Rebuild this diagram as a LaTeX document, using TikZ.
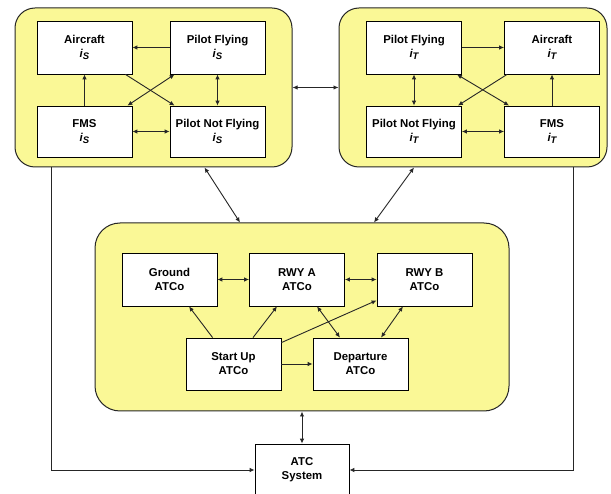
\documentclass[tikz,border=0pt]{standalone}
\usepackage{fontspec}
\setmainfont{Liberation Sans}
\usetikzlibrary{arrows.meta}
\definecolor{contfill}{RGB}{250,248,150}
\newcommand{\subi}[1]{{\itshape i\raisebox{-2.5pt}{\fontsize{9.5}{10}\selectfont #1}}}
\tikzset{
  box/.style={draw=black, line width=0.8pt, fill=white, minimum width=95pt, minimum height=52pt,
    inner sep=1pt, align=center, font=\fontsize{11.4}{14}\selectfont\bfseries},
  cont/.style={draw=black!85, line width=1pt, fill=contfill, rounded corners=20pt},
  conn/.style={draw=black!85, line width=0.9pt},
  one/.style={conn, -{Latex[length=5pt,width=4.5pt]}},
  two/.style={conn, {Latex[length=5pt,width=4.5pt]}-{Latex[length=5pt,width=4.5pt]}}
}
\begin{document}
\begin{tikzpicture}[x=1pt,y=-1pt]
\useasboundingbox (0,0) rectangle (611,494);
\fill[white] (0,0) rectangle (611,494);
% containers
\node[cont, minimum width=277pt, minimum height=159pt] (contL) at (153.5,87.5) {};
\node[cont, minimum width=268pt, minimum height=159pt] (contR) at (473,87.5) {};
\node[cont, rounded corners=25pt, minimum width=414pt, minimum height=188pt] (contM) at (302,317) {};
% left boxes
\node[box, minimum height=53pt] (aS) at (84.5,47.5) {Aircraft\\\subi{S}};
\node[box, minimum height=53pt] (pfS) at (217.5,47.5) {Pilot Flying\\\subi{S}};
\node[box, minimum height=51pt] (fmsS) at (84.5,131.5) {FMS\\\subi{S}};
\node[box, minimum height=51pt] (pnfS) at (217.5,131.5) {Pilot Not Flying\\\subi{S}};
% right boxes
\node[box, minimum height=53pt] (pfT) at (414,47.5) {Pilot Flying\\\subi{T}};
\node[box, minimum height=53pt] (aT) at (552,47.5) {Aircraft\\\subi{T}};
\node[box, minimum height=51pt] (pnfT) at (414,131.5) {Pilot Not Flying\\\subi{T}};
\node[box, minimum height=51pt] (fmsT) at (552,131.5) {FMS\\\subi{T}};
% middle boxes
\node[box, minimum height=53pt] (ground) at (169.5,279.5) {Ground\\ATCo};
\node[box, minimum height=53pt] (rwyA) at (297,279.5) {RWY A\\ATCo};
\node[box, minimum height=53pt] (rwyB) at (424.5,279.5) {RWY B\\ATCo};
\node[box] (startup) at (233.5,364) {Start Up\\ATCo};
\node[box] (dep) at (360.5,364) {Departure\\ATCo};
% ATC system
\node[box, minimum width=94pt] (atc) at (302,470) {ATC\\System};
% left connectors
\draw[one] (pfS.west) -- (aS.east);
\draw[one] (fmsS.north) -- (aS.south);
\draw[one] ([xshift=-7pt]aS.south east) -- ([xshift=5pt]pnfS.north west);
\draw[two] ([xshift=5pt]pfS.south west) -- ([xshift=-5pt]fmsS.north east);
\draw[two] (pfS.south) -- (pnfS.north);
\draw[two] (fmsS.east) -- (pnfS.west);
% right connectors
\draw[one] (pfT.east) -- (aT.west);
\draw[one] (fmsT.north) -- (aT.south);
\draw[two] ([xshift=-5pt]pfT.south east) -- ([xshift=5pt]fmsT.north west);
\draw[one] ([xshift=3pt]aT.south west) -- ([xshift=-4pt]pnfT.north east);
\draw[two] (pfT.south) -- (pnfT.north);
\draw[two] (pnfT.east) -- (fmsT.west);
% container connectors
\draw[two] (contL.east) -- (contR.west);
\draw[two] ([xshift=51pt]contL.south) -- ([xshift=-62pt]contM.north);
\draw[two] ([xshift=-59pt]contR.south) -- ([xshift=72pt]contM.north);
\draw[two] (contM.south) -- (atc.north);
\draw[one] ([xshift=37pt]contL.south west) |- (atc.west);
\draw[one] ([xshift=-34pt]contR.south east) |- (atc.east);
% middle connectors
\draw[two] (ground.east) -- (rwyA.west);
\draw[two] (rwyA.east) -- (rwyB.west);
\draw[one] ([xshift=27pt]startup.north west) -- ([xshift=19.5pt]ground.south);
\draw[one] ([xshift=19.5pt]startup.north) -- ([xshift=-20pt]rwyA.south);
\draw[one] ([yshift=-5pt]startup.north east) -- ([yshift=6pt]rwyB.south west);
\draw[one] (startup.east) -- (dep.west);
\draw[two] ([xshift=20pt]rwyA.south) -- ([xshift=-20.5pt]dep.north);
\draw[two] ([xshift=-21.5pt]rwyB.south) -- ([xshift=20.5pt]dep.north);
\end{tikzpicture}
\end{document}
